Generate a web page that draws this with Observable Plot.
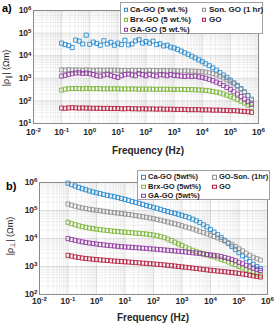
<!DOCTYPE html>
<html><head><meta charset="utf-8">
<script src="https://cdn.jsdelivr.net/npm/d3@7"></script>
<script src="https://cdn.jsdelivr.net/npm/@observablehq/plot@0.6"></script>
<style>
html,body{margin:0;padding:0;background:#fff;}
#wrap{position:relative;width:275px;height:325px;overflow:hidden;font-family:"Liberation Sans",Arial,sans-serif;background:#fff;}
.panel{position:absolute;left:0;}
.legend{position:absolute;background:#fff;border:1px solid #a0a0a0;box-sizing:border-box;font-weight:bold;color:#1a1a1a;}
.item{position:absolute;white-space:nowrap;line-height:1;transform:translateY(-50%);}
.mk{position:absolute;width:2.5px;height:2.5px;border:1px solid;transform:translateY(-50%);}
</style></head><body><div id="wrap"></div>
<script>
// ---- data ----
const freq = [0.1,0.133,0.178,0.237,0.316,0.422,0.562,0.75,
  1,1.33,1.78,2.37,3.16,4.22,5.62,7.5,
  10,13.3,17.8,23.7,31.6,42.2,56.2,75,
  100,133,178,237,316,422,562,750,
  1000,1330,1780,2370,3160,4220,5620,7500,
  1e4,13300,17800,23700,31600,42200,56200,75000,
  1e5,133000,178000,237000,316000,422000,562000];

const paraLabels = ["Ca-GO (5 wt.%)","Son. GO (1 hr)","Brx-GO (5 wt.%)","GO","GA-GO (5 wt.%)"];
const perpLabels = ["Ca-GO (5wt%)","GO-Son. (1hr)","Brx-GO (5wt%)","GO","GA-GO (5wt%)"];
const colors = ["#1f86cf","#8c8c8c","#77b32f","#b31b3c","#8f35a0"];

const paraCa = [3.6e4,3.1e4,2.8e4,2.3e4,4.9e4,4.4e4,3.3e4,8.1e4,
  3.2e4,4.0e4,3.5e4,2.9e4,4.6e4,3.3e4,3.9e4,2.9e4,
  3.6e4,3.1e4,4.8e4,3.0e4,3.3e4,4.5e4,5.1e4,3.6e4,
  4.2e4,3.6e4,4.4e4,3.1e4,3.4e4,2.7e4,2.9e4,2.4e4,
  2.2e4,1.9e4,1.6e4,1.35e4,1.15e4,9.5e3,8.0e3,6.6e3,
  5.4e3,4.4e3,3.6e3,2.9e3,2.3e3,1.8e3,1.4e3,1.1e3,
  830,630,480,350,250,175,110];
const paraSon = [2.35e3,2.3e3,2.4e3,2.3e3,2.35e3,2.3e3,2.25e3,2.35e3,
  2.3e3,2.25e3,2.3e3,2.3e3,2.25e3,2.3e3,2.25e3,2.3e3,
  2.25e3,2.2e3,2.25e3,2.2e3,2.25e3,2.2e3,2.25e3,2.2e3,
  2.2e3,2.25e3,2.2e3,2.2e3,2.15e3,2.2e3,2.15e3,2.2e3,
  2.15e3,2.15e3,2.1e3,2.15e3,2.1e3,2.1e3,2.05e3,2.0e3,
  1.95e3,1.87e3,1.75e3,1.6e3,1.42e3,1.23e3,1.04e3,860,
  700,560,440,330,240,170,120];
const paraBrx = [300,330,345,350,355,350,345,355,
  350,345,350,345,340,345,340,345,
  340,335,340,335,340,335,330,335,
  330,335,330,325,330,325,330,325,
  320,325,320,320,315,315,310,305,
  300,290,278,262,245,225,203,180,
  158,136,116,97,80,65,52];
const paraGO = [48,47,49,50,49,48,49,48,
  48,47,47,47,46,47,46,46,
  46,45,45,46,45,45,44,45,
  44,44,44,43,44,43,43,43,
  42,42,42,42,41,41,41,41,
  40,40,40,39,39,39,38,38,
  37,37,36,35,34,33,31];
const paraGA = [1.25e3,1.35e3,1.5e3,1.6e3,1.72e3,1.75e3,1.65e3,1.7e3,
  1.6e3,1.45e3,1.3e3,1.25e3,1.4e3,1.5e3,1.35e3,1.2e3,
  1.1e3,1.3e3,1.45e3,1.55e3,1.4e3,1.3e3,1.6e3,1.45e3,
  1.3e3,1.5e3,1.35e3,1.25e3,1.45e3,1.4e3,1.3e3,1.45e3,
  1.35e3,1.3e3,1.25e3,1.2e3,1.25e3,1.2e3,1.25e3,1.15e3,
  1.1e3,1.0e3,900,790,680,580,480,395,
  320,255,200,155,120,92,70];

const perpCa = [9.5e5,8.4e5,7.5e5,6.7e5,6.0e5,5.5e5,5.0e5,4.6e5,
  4.3e5,4.0e5,3.75e5,3.5e5,3.3e5,3.1e5,2.9e5,2.7e5,
  2.5e5,2.3e5,2.1e5,1.95e5,1.8e5,1.65e5,1.5e5,1.4e5,
  1.3e5,1.2e5,1.1e5,1.0e5,9.2e4,8.5e4,7.9e4,7.3e4,
  6.7e4,6.1e4,5.5e4,4.9e4,4.3e4,3.7e4,3.1e4,2.6e4,
  2.1e4,1.7e4,1.37e4,1.1e4,8.6e3,6.7e3,5.2e3,4.0e3,
  3.1e3,2.4e3,1.9e3,1.5e3,1.2e3,1.0e3,850];
const perpSon = [1.7e5,1.55e5,1.42e5,1.32e5,1.24e5,1.17e5,1.11e5,1.06e5,
  1.02e5,9.8e4,9.4e4,9.0e4,8.7e4,8.4e4,8.1e4,7.8e4,
  7.5e4,7.2e4,6.9e4,6.6e4,6.3e4,6.0e4,5.7e4,5.4e4,
  5.1e4,4.8e4,4.5e4,4.2e4,3.9e4,3.6e4,3.35e4,3.1e4,
  2.85e4,2.6e4,2.4e4,2.2e4,2.0e4,1.8e4,1.63e4,1.47e4,
  1.32e4,1.18e4,1.05e4,9.3e3,8.1e3,7.0e3,6.0e3,5.1e3,
  4.3e3,3.6e3,3.0e3,2.5e3,2.15e3,1.9e3,1.7e3];
const perpBrx = [3.8e4,3.4e4,3.1e4,2.85e4,2.65e4,2.5e4,2.35e4,2.25e4,
  2.15e4,2.07e4,2.0e4,1.93e4,1.87e4,1.82e4,1.77e4,1.72e4,
  1.68e4,1.64e4,1.6e4,1.56e4,1.52e4,1.48e4,1.44e4,1.39e4,
  1.33e4,1.26e4,1.17e4,1.07e4,9.6e3,8.5e3,7.4e3,6.4e3,
  5.6e3,4.9e3,4.3e3,3.8e3,3.4e3,3.1e3,2.85e3,2.6e3,
  2.4e3,2.2e3,2.0e3,1.8e3,1.62e3,1.45e3,1.3e3,1.15e3,
  1.0e3,880,770,680,600,540,490];
const perpGO = [2.5e3,2.35e3,2.2e3,2.1e3,2.0e3,1.93e3,1.87e3,1.82e3,
  1.77e3,1.72e3,1.68e3,1.64e3,1.6e3,1.56e3,1.53e3,1.5e3,
  1.47e3,1.44e3,1.41e3,1.38e3,1.35e3,1.32e3,1.29e3,1.26e3,
  1.23e3,1.2e3,1.17e3,1.14e3,1.1e3,1.07e3,1.04e3,1.0e3,
  970,940,910,880,850,820,790,760,
  730,710,690,670,650,630,610,590,
  565,540,515,490,465,440,420];
const perpGA = [1.0e4,9.2e3,8.6e3,8.1e3,7.6e3,7.2e3,6.9e3,6.6e3,
  6.35e3,6.1e3,5.9e3,5.7e3,5.55e3,5.4e3,5.25e3,5.1e3,
  5.0e3,4.9e3,4.8e3,4.7e3,4.6e3,4.5e3,4.4e3,4.3e3,
  4.2e3,4.1e3,4.0e3,3.9e3,3.8e3,3.7e3,3.6e3,3.5e3,
  3.4e3,3.3e3,3.2e3,3.1e3,3.0e3,2.9e3,2.8e3,2.7e3,
  2.6e3,2.5e3,2.4e3,2.25e3,2.1e3,1.95e3,1.78e3,1.6e3,
  1.42e3,1.25e3,1.1e3,970,870,790,720];

const xTicks = [1e-2,1e-1,1,10,100,1e3,1e4,1e5,1e6];

// ---- helpers ----
function minorTicks(lo, hi) {
  const out = [];
  for (let e = lo; e < hi; e++) for (let m = 2; m <= 9; m++) out.push(m * Math.pow(10, e));
  return out;
}
const fmt = d => "10^" + Math.round(Math.log10(d));

function panel(cfg) {
  const rows = [];
  cfg.series.forEach((vals, k) => vals.forEach((v, i) => rows.push({f: freq[i], v, name: cfg.labels[k]})));
  const yTicks = cfg.yTicks;
  const p = Plot.plot({
    width: 275, height: cfg.height,
    marginLeft: cfg.ml, marginRight: cfg.mr, marginTop: cfg.mt, marginBottom: cfg.mb,
    style: {fontFamily: '"Liberation Sans", Arial, sans-serif', fontSize: "8.5px", fontWeight: "bold", color: "#262626", background: "transparent", overflow: "visible"},
    x: {type: "log", domain: [1e-2, 1e6]},
    y: {type: "log", domain: [yTicks[0], yTicks[yTicks.length - 1]]},
    color: {domain: cfg.labels, range: colors},
    marks: [
      Plot.gridX(minorTicks(-2, 6), {stroke: "#000", strokeOpacity: 0.06}),
      Plot.gridY(minorTicks(Math.log10(yTicks[0]), 6), {stroke: "#000", strokeOpacity: 0.06}),
      Plot.gridX(xTicks, {stroke: "#000", strokeOpacity: 0.12}),
      Plot.gridY(yTicks, {stroke: "#000", strokeOpacity: 0.12}),
      Plot.axisX(xTicks, {tickSize: 0, tickPadding: cfg.xpad, tickFormat: fmt, label: null}),
      Plot.axisY(yTicks, {tickSize: 0, tickPadding: 2, tickFormat: fmt, label: null}),
      Plot.dot(rows, {x: "f", y: "v", stroke: "name", fill: "none", symbol: "square", r: 2.3, strokeWidth: 0.85}),
      Plot.frame({stroke: "#8a8a8a"})
    ]
  });
  const svg = d3.select(p);
  svg.selectAll("text").each(function () {
    const t = this.textContent;
    if (/^10\^/.test(t)) {
      const s = d3.select(this);
      s.text("10");
      s.append("tspan").attr("dy", "-0.45em").attr("font-size", "0.72em").text(t.slice(3));
    }
  });
  // panel letter
  svg.append("text").attr("x", cfg.letterX).attr("y", cfg.letterY).attr("text-anchor", "start")
    .attr("font-size", 11).attr("font-weight", "bold").attr("fill", "#000").text(cfg.letter);
  // x label
  svg.append("text").attr("x", cfg.xlabX).attr("y", cfg.xlabY).attr("text-anchor", "middle")
    .attr("font-size", 10).attr("font-weight", "bold").attr("fill", "#262626").text("Frequency (Hz)");
  // y label
  const yl = svg.append("text").attr("transform", `translate(${cfg.ylabX},${cfg.ylabY}) rotate(-90)`)
    .attr("text-anchor", "middle").attr("font-size", 9).attr("font-weight", "normal").attr("fill", "#262626");
  yl.append("tspan").text("|ρ");
  yl.append("tspan").attr("font-size", 6.5).attr("dy", 2).text(cfg.sub);
  yl.append("tspan").attr("dy", -2).text("| (Ωm)");
  p.classList.add("panel");
  p.style.top = cfg.top + "px";
  return p;
}

function legend(cfg) {
  const box = document.createElement("div");
  box.className = "legend";
  Object.assign(box.style, {left: cfg.left + "px", top: cfg.top + "px", width: cfg.w + "px", height: cfg.h + "px", fontSize: cfg.fs + "px"});
  cfg.labels.forEach((lab, k) => {
    const col = k % 2, row = Math.floor(k / 2);
    const y = cfg.rows[row];
    const mk = document.createElement("div");
    mk.className = "mk";
    Object.assign(mk.style, {left: cfg.mkX[col] + "px", top: y + "px", borderColor: colors[k]});
    const tx = document.createElement("div");
    tx.className = "item";
    Object.assign(tx.style, {left: cfg.txX[col] + "px", top: y + "px"});
    tx.textContent = lab;
    box.appendChild(mk); box.appendChild(tx);
  });
  return box;
}

const wrap = document.getElementById("wrap");
wrap.appendChild(panel({
  series: [paraCa, paraSon, paraBrx, paraGO, paraGA], labels: paraLabels,
  yTicks: [10, 100, 1e3, 1e4, 1e5, 1e6],
  height: 160, top: 0, ml: 33, mr: 17, mt: 10, mb: 37, xpad: 5,
  letter: "a)", letterX: 2, letterY: 12,
  xlabX: 148, xlabY: 154, ylabX: 9, ylabY: 68, sub: "∥"
}));
wrap.appendChild(panel({
  series: [perpCa, perpSon, perpBrx, perpGO, perpGA], labels: perpLabels,
  yTicks: [100, 1e3, 1e4, 1e5, 1e6],
  height: 165, top: 160, ml: 39, mr: 8, mt: 22, mb: 31, xpad: 3,
  letter: "b)", letterX: 6, letterY: 30,
  xlabX: 153, xlabY: 161, ylabX: 13, ylabY: 76, sub: "⊥"
}));
wrap.appendChild(legend({
  labels: paraLabels, left: 120, top: 2, w: 143, h: 32, fs: 8,
  rows: [6.5, 16.5, 26.5], mkX: [2.5, 80.5], txX: [9, 88]
}));
wrap.appendChild(legend({
  labels: perpLabels, left: 137, top: 170, w: 133, h: 30, fs: 7.5,
  rows: [6, 15.5, 24.5], mkX: [3, 74], txX: [10, 81]
}));
</script></body></html>
